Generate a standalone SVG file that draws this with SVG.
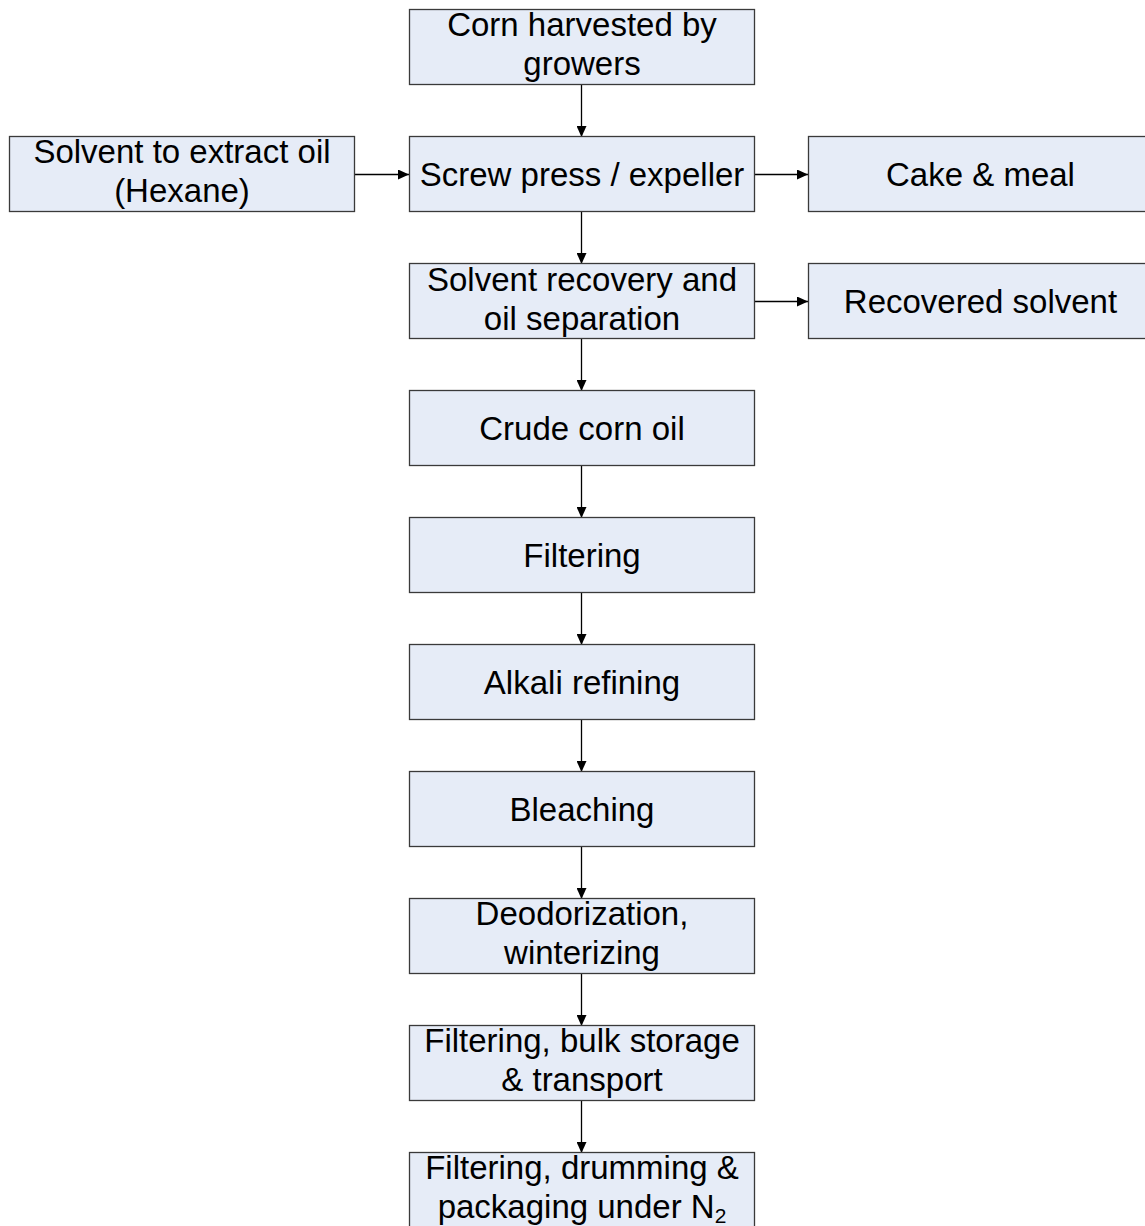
<svg xmlns="http://www.w3.org/2000/svg" width="1145" height="1226" viewBox="0 0 1145 1226">
<defs>
<style>
.box{fill:#E6ECF7;stroke:#3a3a3a;stroke-width:1.3}
.t{font-family:"Liberation Sans",Arial,sans-serif;font-size:33px;fill:#000;text-anchor:middle}
.c{stroke:#000;stroke-width:1.3;fill:none;marker-end:url(#ah)}
</style>
<marker id="ah" viewBox="0 0 11 10" refX="11" refY="5" markerWidth="11" markerHeight="10" markerUnits="userSpaceOnUse" orient="auto">
<path d="M0,0 L11,5 L0,10 Z" fill="#000"/>
</marker>
</defs>
<rect width="1145" height="1226" fill="#fff"/>
<g id="connectors">
<line class="c" x1="581.5" y1="84.5" x2="581.5" y2="137"/>
<line class="c" x1="354.5" y1="174.5" x2="409" y2="174.5"/>
<line class="c" x1="754.5" y1="174.5" x2="808" y2="174.5"/>
<line class="c" x1="581.5" y1="211.5" x2="581.5" y2="264"/>
<line class="c" x1="754.5" y1="301.5" x2="808" y2="301.5"/>
<line class="c" x1="581.5" y1="338.5" x2="581.5" y2="391"/>
<line class="c" x1="581.5" y1="465.5" x2="581.5" y2="518"/>
<line class="c" x1="581.5" y1="592.5" x2="581.5" y2="645"/>
<line class="c" x1="581.5" y1="719.5" x2="581.5" y2="772"/>
<line class="c" x1="581.5" y1="846.5" x2="581.5" y2="899"/>
<line class="c" x1="581.5" y1="973.5" x2="581.5" y2="1026"/>
<line class="c" x1="581.5" y1="1100.5" x2="581.5" y2="1153"/>
</g>
<g id="n1"><rect class="box" x="409.5" y="9.5" width="345" height="75"/><text class="t" x="582" y="36">Corn harvested by</text><text class="t" x="582" y="75">growers</text></g>
<g id="n2"><rect class="box" x="409.5" y="136.5" width="345" height="75"/><text class="t" x="582" y="185.5">Screw press / expeller</text></g>
<g id="n3"><rect class="box" x="9.5" y="136.5" width="345" height="75"/><text class="t" x="182" y="163">Solvent to extract oil</text><text class="t" x="182" y="202">(Hexane)</text></g>
<g id="n4"><rect class="box" x="808.5" y="136.5" width="345" height="75"/><text class="t" x="980.5" y="185.5">Cake &amp; meal</text></g>
<g id="n5"><rect class="box" x="409.5" y="263.5" width="345" height="75"/><text class="t" x="582" y="290.5">Solvent recovery and</text><text class="t" x="582" y="329.5">oil separation</text></g>
<g id="n6"><rect class="box" x="808.5" y="263.5" width="345" height="75"/><text class="t" x="980.5" y="312.5">Recovered solvent</text></g>
<g id="n7"><rect class="box" x="409.5" y="390.5" width="345" height="75"/><text class="t" x="582" y="439.5">Crude corn oil</text></g>
<g id="n8"><rect class="box" x="409.5" y="517.5" width="345" height="75"/><text class="t" x="582" y="566.5">Filtering</text></g>
<g id="n9"><rect class="box" x="409.5" y="644.5" width="345" height="75"/><text class="t" x="582" y="693.5">Alkali refining</text></g>
<g id="n10"><rect class="box" x="409.5" y="771.5" width="345" height="75"/><text class="t" x="582" y="820.5">Bleaching</text></g>
<g id="n11"><rect class="box" x="409.5" y="898.5" width="345" height="75"/><text class="t" x="582" y="925">Deodorization,</text><text class="t" x="582" y="964">winterizing</text></g>
<g id="n12"><rect class="box" x="409.5" y="1025.5" width="345" height="75"/><text class="t" x="582" y="1052">Filtering, bulk storage</text><text class="t" x="582" y="1091">&amp; transport</text></g>
<g id="n13"><rect class="box" x="409.5" y="1152.5" width="345" height="75"/><text class="t" x="582" y="1179">Filtering, drumming &amp;</text><text class="t" x="582" y="1218">packaging under N<tspan font-size="21" dy="5">2</tspan></text></g>
</svg>
